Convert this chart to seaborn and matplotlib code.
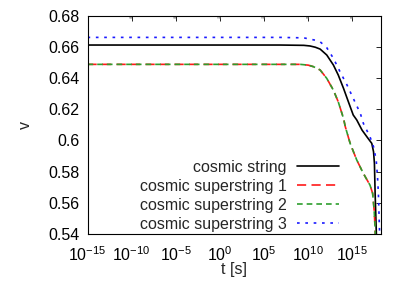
import numpy as np
import pandas as pd
import seaborn as sns
import matplotlib.pyplot as plt
from matplotlib.ticker import FixedLocator, LogFormatterSciNotation, NullFormatter

# values (log10 of t in seconds, and v)
logt_string = [-15, 6.8, 9.5, 10.2, 10.8, 11.35, 12.1, 12.85, 13.4, 14.0, 14.55, 15.1, 15.5, 16.1, 16.65, 17.2, 17.4, 17.5, 17.58, 17.7, 17.75]
v_string = [0.6612, 0.6612, 0.6610, 0.6606, 0.6598, 0.6586, 0.6548, 0.6484, 0.6420, 0.6334, 0.6248, 0.6163, 0.6131, 0.6066, 0.6023, 0.5981, 0.5927, 0.5853, 0.5660, 0.5435, 0.535]

logt_super12 = [-15, 9.1, 10.0, 10.6, 11.35, 12.1, 12.85, 13.4, 14.0, 14.2, 14.75, 15.5, 16.25, 17.0, 17.3, 17.47, 17.58, 17.62]
v_super1 = [0.6488, 0.6488, 0.6483, 0.6473, 0.6452, 0.6398, 0.6323, 0.6248, 0.6141, 0.6088, 0.5981, 0.5874, 0.5788, 0.5713, 0.5660, 0.5553, 0.5435, 0.535]
v_super2 = [0.6488, 0.6488, 0.6483, 0.6473, 0.6452, 0.6398, 0.6323, 0.6248, 0.6141, 0.6088, 0.5981, 0.5874, 0.5788, 0.5713, 0.5660, 0.5553, 0.5435, 0.535]

logt_super3 = [-15, 6.8, 9.5, 10.2, 10.8, 11.35, 12.1, 12.85, 13.6, 14.4, 15.1, 15.9, 16.25, 17.0, 17.4, 17.7, 17.85, 17.95, 18.07, 18.12]
v_super3 = [0.6661, 0.6661, 0.6658, 0.6650, 0.6643, 0.6633, 0.6595, 0.6527, 0.6441, 0.6355, 0.6270, 0.6174, 0.6109, 0.6023, 0.5959, 0.5874, 0.5767, 0.5660, 0.5435, 0.535]

labels = ['cosmic string', 'cosmic superstring 1', 'cosmic superstring 2', 'cosmic superstring 3']
y_ticks = [0.54, 0.56, 0.58, 0.6, 0.62, 0.64, 0.66, 0.68]
y_ticklabels = ['0.54', '0.56', '0.58', '0.6', '0.62', '0.64', '0.66', '0.68']
x_major_exp = [-15, -10, -5, 0, 5, 10, 15]

sns.set_style('white')
plt.rcParams['font.family'] = ['Liberation Sans', 'DejaVu Sans']
plt.rcParams['mathtext.default'] = 'regular'
fs = 11.5

fig = plt.figure(figsize=(4.09, 2.86), dpi=100)
ax = fig.add_axes([0.214, 0.182, 0.717, 0.763])

series = [
    (logt_string, v_string, labels[0], 'black', '-'),
    (logt_super12, v_super1, labels[1], '#ff1a1a', (0, (5.5, 3.2))),
    (logt_super12, v_super2, labels[2], '#2e9e2e', (0, (3.4, 2.4))),
    (logt_super3, v_super3, labels[3], '#1a1aff', (0, (1.6, 3.4))),
]
for lt, v, lab, col, ls in series:
    df = pd.DataFrame({'t': 10.0 ** np.array(lt), 'v': v})
    sns.lineplot(data=df, x='t', y='v', ax=ax, color=col, linestyle=ls,
                 linewidth=1.2, label=lab, sort=False)

ax.set_xscale('log')
ax.set_xlim(1e-15, 10 ** 18.22)
ax.set_ylim(0.54, 0.68)

ax.xaxis.set_major_locator(FixedLocator([10.0 ** e for e in x_major_exp]))
ax.xaxis.set_major_formatter(LogFormatterSciNotation())
minors = [m * 10.0 ** (e - 1) for e in x_major_exp for m in range(5, 10)]
ax.xaxis.set_minor_locator(FixedLocator(minors))
ax.xaxis.set_minor_formatter(NullFormatter())
ax.set_yticks(y_ticks)
ax.set_yticklabels(y_ticklabels)

ax.tick_params(axis='both', which='major', direction='in', length=3.5, width=0.6,
               top=True, right=True, labelsize=fs, colors='black')
ax.tick_params(axis='x', which='major', pad=8)
ax.tick_params(axis='y', which='major', pad=6)
ax.tick_params(axis='x', which='minor', direction='in', length=1.5, width=0.4,
               top=True, color='#888888')
for s in ax.spines.values():
    s.set_color('black')
    s.set_linewidth(0.8)

ax.set_xlabel('t [s]', fontsize=fs, labelpad=-1)
ax.set_ylabel('v', fontsize=fs, labelpad=11)

ax.legend(loc='lower right', bbox_to_anchor=(0.858, 0.01), frameon=False,
          markerfirst=False, fontsize=fs, handlelength=2.65, handletextpad=0.65,
          labelspacing=0.25, borderpad=0, borderaxespad=0)

fig.savefig('out.png', dpi=100)
